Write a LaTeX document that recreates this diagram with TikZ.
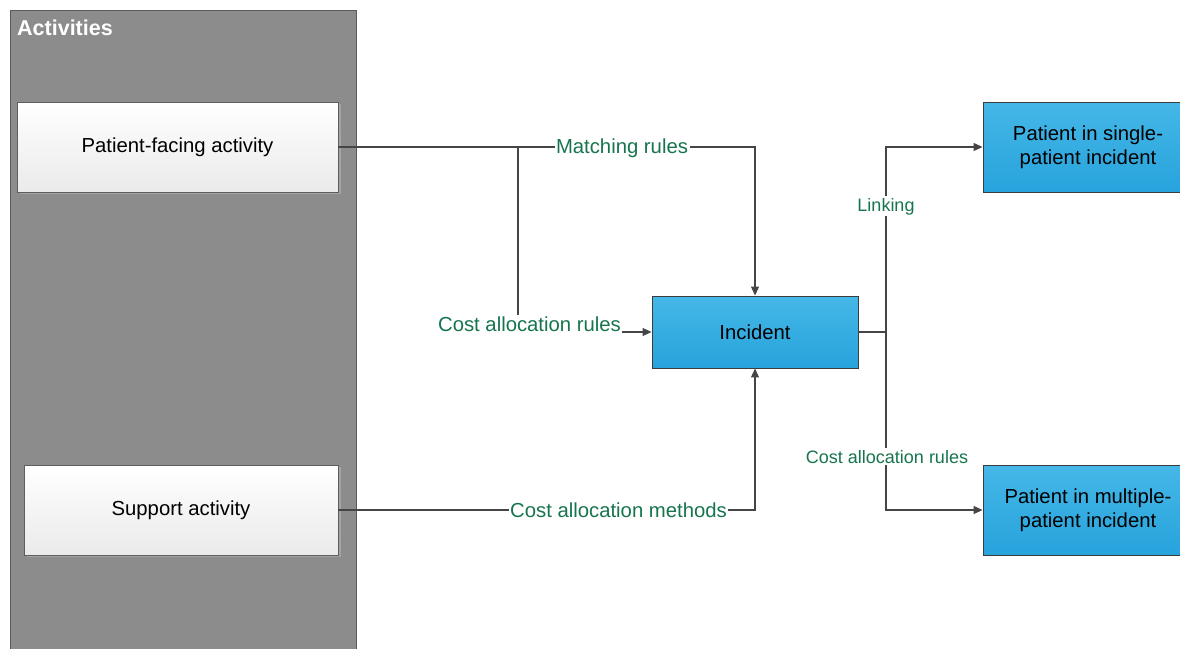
\documentclass[tikz,border=0pt]{standalone}
\usepackage{fontspec}
\setmainfont{Liberation Sans}
\usetikzlibrary{arrows.meta,shadows}
\definecolor{panelgray}{HTML}{8C8C8C}
\definecolor{paneledge}{HTML}{5A5A5A}
\definecolor{boxedge}{HTML}{5E5E5E}
\definecolor{boxshadow}{HTML}{A3A3A3}
\definecolor{boxbottom}{HTML}{EAEAEA}
\definecolor{bluetop}{HTML}{45B7E7}
\definecolor{bluebottom}{HTML}{27A3DC}
\definecolor{blueedge}{HTML}{3C3C3C}
\definecolor{linkgray}{HTML}{454545}
\definecolor{labelgreen}{HTML}{17754D}
\begin{document}
\begin{tikzpicture}[x=1pt,y=-1pt,
  every node/.style={font=\fontsize{20.3}{24}\selectfont},
  panel/.style={draw=paneledge, line width=1pt, fill=panelgray, inner sep=0pt,
    minimum width=346pt, minimum height=660pt},
  activitybox/.style={draw=boxedge, line width=0.9pt, top color=white, bottom color=boxbottom,
    drop shadow={fill=boxshadow, opacity=1, shadow xshift=2.5pt, shadow yshift=-2pt},
    inner sep=0pt, minimum height=90pt, align=center},
  bluebox/.style={draw=blueedge, line width=0.9pt, top color=bluetop, bottom color=bluebottom,
    inner sep=0pt, align=center},
  link/.style={draw=linkgray, line width=1.1pt},
  arrowlink/.style={link, -{Triangle[length=9pt,width=8pt]}},
  flowlabel/.style={text=labelgreen, fill=white, inner sep=1.5pt, anchor=base},
  smalllabel/.style={flowlabel, font=\fontsize{18}{21}\selectfont}
]
\useasboundingbox (0,0) rectangle (1180,648);

% activities panel
\node[panel] (act) at (183,340) {};
\node[anchor=base west, text=white, font=\fontsize{21.5}{24}\bfseries, inner sep=0pt] (acttitle) at (17,35) {Activities};

% activity boxes
\node[activitybox, minimum width=321pt] (pf) at (177.5,147) {Patient-facing activity};
\node[activitybox, minimum width=314pt] (sa) at (181,510) {Support activity};

% incident and patient boxes
\node[bluebox, minimum width=206pt, minimum height=72pt] (inc) at (755,332) {Incident};
\node[bluebox, minimum width=210pt, minimum height=90pt] (single) at (1088,147) {Patient in single-\\patient incident};
\node[bluebox, minimum width=210pt, minimum height=90pt] (multi) at (1088,510) {Patient in multiple-\\patient incident};

% connectors
\coordinate (split) at (518,147);
\coordinate (fork) at (886,332);
\draw[arrowlink] (pf.east) -| (inc.north);
\draw[arrowlink] (split) |- (inc.west);
\draw[arrowlink] (sa.east) -| (inc.south);
\draw[link] (inc.east) -- (fork);
\draw[arrowlink] (fork) |- (single.west);
\draw[arrowlink] (fork) |- (multi.west);

% connector labels
\node[flowlabel] (lmatch) at (622,153) {Matching rules};
\node[flowlabel] (lrules) at (529.5,331) {Cost allocation rules};
\node[flowlabel] (lmethods) at (618.5,517) {Cost allocation methods};
\node[smalllabel] (llink) at (886,211) {Linking};
\node[smalllabel] (lrules2) at (887,463) {Cost allocation rules};
\end{tikzpicture}
\end{document}
